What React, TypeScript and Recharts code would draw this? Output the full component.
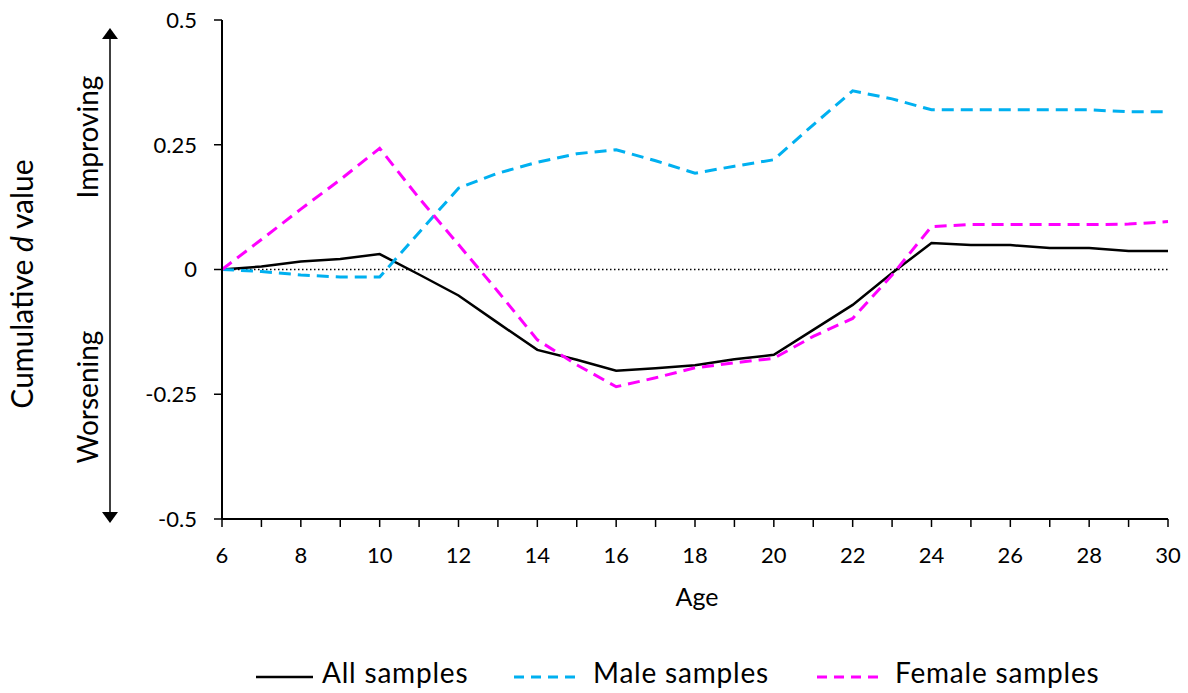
import { LineChart, Line, XAxis, YAxis, ReferenceLine } from 'recharts';

const AGES = [6, 7, 8, 9, 10, 11, 12, 13, 14, 15, 16, 17, 18, 19, 20, 21, 22, 23, 24, 25, 26, 27, 28, 29, 30];
const ALL_SAMPLES = [0, 0.006, 0.016, 0.021, 0.031, -0.01, -0.052, -0.107, -0.161, -0.181, -0.203, -0.198, -0.192, -0.18, -0.171, -0.121, -0.071, -0.007, 0.053, 0.049, 0.049, 0.043, 0.043, 0.037, 0.037];
const MALE_SAMPLES = [0, -0.004, -0.011, -0.015, -0.015, 0.074, 0.163, 0.193, 0.215, 0.232, 0.24, 0.218, 0.193, 0.207, 0.22, 0.29, 0.358, 0.342, 0.32, 0.32, 0.32, 0.32, 0.32, 0.316, 0.316];
const FEMALE_SAMPLES = [0, 0.06, 0.121, 0.18, 0.243, 0.143, 0.05, -0.044, -0.141, -0.191, -0.235, -0.217, -0.197, -0.187, -0.178, -0.134, -0.098, -0.011, 0.086, 0.09, 0.09, 0.09, 0.09, 0.091, 0.096];
const Y_TICKS = [-0.5, -0.25, 0, 0.25, 0.5];

const SERIES = [
  { key: 'all', name: 'All samples', color: '#000000', dash: undefined, width: 2.5 },
  { key: 'male', name: 'Male samples', color: '#00B0F0', dash: '12 7', width: 3 },
  { key: 'female', name: 'Female samples', color: '#FF00FF', dash: '12 7', width: 3 },
];

const data = AGES.map((age, i) => ({
  age,
  all: ALL_SAMPLES[i],
  male: MALE_SAMPLES[i],
  female: FEMALE_SAMPLES[i],
}));

const FONT = 'Lato, "Open Sans", sans-serif';
const tickStyle = { fontSize: 22, fill: '#000', fontFamily: FONT };

// legend swatch positions (x start, text start)
const LEGEND_POS = [
  { x1: 256, x2: 313, tx: 322 },
  { x1: 514, x2: 581, tx: 593 },
  { x1: 817, x2: 883, tx: 895 },
];

export default function App() {
  return (
    <div style={{ position: 'absolute', left: 0, top: 0, width: 1188, height: 693, background: '#fff', fontFamily: FONT }}>
      <LineChart width={1188} height={693} data={data} margin={{ top: 20, right: 20, left: 150, bottom: 94 }}>
        <XAxis
          dataKey="age"
          type="number"
          domain={[6, 30]}
          ticks={AGES}
          interval={0}
          tickFormatter={(v: number) => (v % 2 === 0 ? String(v) : '')}
          height={80}
          tickSize={8}
          tickMargin={20}
          axisLine={{ stroke: '#000', strokeWidth: 2 }}
          tickLine={{ stroke: '#000', strokeWidth: 1.5 }}
          tick={tickStyle}
        />
        <YAxis
          type="number"
          domain={[-0.5, 0.5]}
          ticks={Y_TICKS}
          width={72}
          tickSize={8}
          tickMargin={17}
          axisLine={{ stroke: '#000', strokeWidth: 2 }}
          tickLine={{ stroke: '#000', strokeWidth: 1.5 }}
          tick={tickStyle}
        />
        <ReferenceLine y={0} stroke="#000" strokeWidth={1.5} strokeDasharray="1.5 2.5" />
        {SERIES.map((s) => (
          <Line
            key={s.key}
            dataKey={s.key}
            name={s.name}
            stroke={s.color}
            strokeWidth={s.width}
            strokeDasharray={s.dash}
            dot={false}
            type="linear"
            isAnimationActive={false}
          />
        ))}
      </LineChart>
      <svg width={1188} height={693} style={{ position: 'absolute', left: 0, top: 0, pointerEvents: 'none' }}>
        <text x={33} y={284} fontSize={30} textAnchor="middle" fill="#000" transform="rotate(-90, 33, 284)">
          Cumulative <tspan fontStyle="italic">d</tspan> value
        </text>
        <text x={98} y={137} fontSize={28} textAnchor="middle" fill="#000" transform="rotate(-90, 98, 137)">
          Improving
        </text>
        <text x={98} y={397} fontSize={28} textAnchor="middle" fill="#000" transform="rotate(-90, 98, 397)">
          Worsening
        </text>
        <line x1={110} y1={38} x2={110} y2={514} stroke="#000" strokeWidth={1.5} />
        <polygon points="110,28 102,39 118,39" fill="#000" />
        <polygon points="110,523 102,512 118,512" fill="#000" />
        <text x={697} y={606} fontSize={25} textAnchor="middle" fill="#000">Age</text>
        {SERIES.map((s, i) => (
          <g key={s.key}>
            <line x1={LEGEND_POS[i].x1} y1={677} x2={LEGEND_POS[i].x2} y2={677} stroke={s.color} strokeWidth={s.width} strokeDasharray={s.dash ? '10 7' : undefined} />
            <text x={LEGEND_POS[i].tx} y={683} fontSize={28} letterSpacing={0.8} fill="#000">{s.name}</text>
          </g>
        ))}
      </svg>
    </div>
  );
}
